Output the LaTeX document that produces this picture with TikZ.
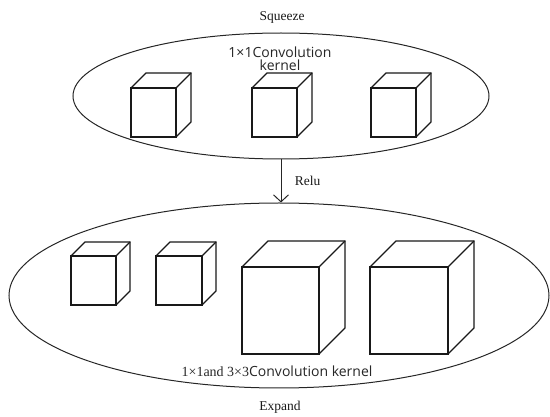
\documentclass[tikz,border=0pt]{standalone}
\usepackage{fontspec}
\setmainfont{Liberation Serif}
\newfontfamily\kernelfont{Open Sans}
\usetikzlibrary{shapes.geometric, arrows.meta, positioning}

% front face top-left corner (#1,#2), width #3, height #4, depth #5
\newcommand{\kernelcube}[5]{%
  \draw[cube, fill=white] (#1,#2) rectangle ++(#3,#4);
  \draw[cube] (#1,#2) -- ++(#5,-#5) -- ++(#3,0) -- ++(0,#4) -- (#1+#3,#2+#4);
  \draw[cube] (#1+#3,#2) -- ++(#5,-#5);
}

\begin{document}
\begin{tikzpicture}[
  x=1pt, y=-1pt,
  stage/.style={draw=black!85, ellipse, line width=1pt, inner sep=0pt},
  cube/.style={draw=black!90, line width=1.3pt, line join=miter},
  tag/.style={font=\fontsize{13.5}{15}\selectfont, text=black!90},
  kern/.style={font=\kernelfont\fontsize{14}{16}\selectfont, text=black!85,
               align=center},
  arr/.style={-{Straight Barb[length=7pt, width=15pt]}, line width=1pt, black!85}
]
\useasboundingbox (0,0) rectangle (550,417);

% squeeze stage
\node[stage, minimum width=416pt, minimum height=126pt] (squeeze) at (281,96) {};
\node[tag] (sqlabel) at (282,17) {Squeeze};
\node[kern, inner sep=0pt] (sqkern) at (280,59)
  {1×1Convolution\\[-3.5pt]kernel};
\kernelcube{131}{88}{45}{49}{15}
\kernelcube{252}{88}{45}{49}{15}
\kernelcube{371}{88}{45}{49}{15}

% expand stage
\node[stage, minimum width=540pt, minimum height=185pt] (expand) at (279,295.5) {};
\kernelcube{71}{256}{45}{49}{14}
\kernelcube{156}{256}{46}{49}{14}
\kernelcube{242}{267}{77}{87}{26}
\kernelcube{370}{267}{78}{87}{26}
\node[kern, inner sep=0pt] (exkern) at (277,371)
  {{\rmfamily 1×1and 3×3}Convolution kernel};
\node[tag] (exlabel) at (280,407) {Expand};

% relu between the stages
\draw[arr] (squeeze.south) -- (squeeze.south |- expand.north)
  node[midway, right=10pt, tag] (relu) {Relu};
\end{tikzpicture}
\end{document}
